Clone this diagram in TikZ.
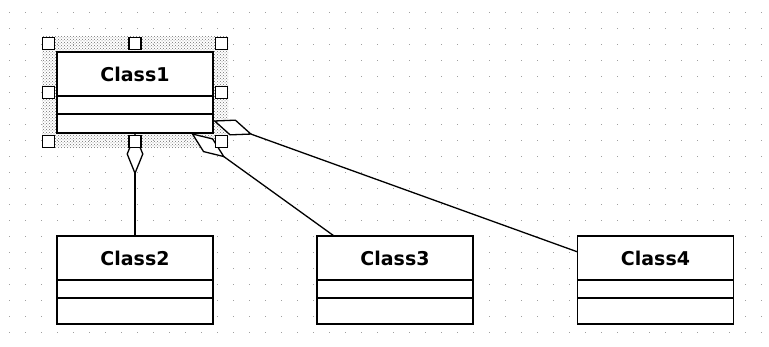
\documentclass[tikz,border=0pt]{standalone}
\usepackage{fontspec}
\setmainfont{DejaVu Sans}
\usepackage{tikz}
\usetikzlibrary{positioning,arrows.meta,fit,backgrounds,patterns}
\definecolor{griddot}{HTML}{A0A0A0}
\definecolor{selgray}{HTML}{707070}

\begin{document}
\begin{tikzpicture}[
  x=1pt,y=-1pt,
  every node/.style={outer sep=0pt},
  head/.style={draw,line width=1.8pt,fill=white,minimum width=156pt,minimum height=44pt,inner sep=0pt,font=\fontsize{19}{19}\selectfont\bfseries},
  comp/.style={draw,line width=1.8pt,fill=white,minimum width=156pt,inner sep=0pt},
  whole/.style={inner sep=0pt},
  agg/.style={-{Diamond[fill=white,length=42pt,width=17pt]},line width=1.3pt},
  handle/.style={draw,line width=1.5pt,fill=white,minimum size=12pt,inner sep=0pt}]
  \useasboundingbox (0,0) rectangle (769,347);
  % Class1 (selected)
  \node[head] (c1h) at (135,74) {Class1};
  \node[comp,minimum height=18pt,below=0pt of c1h] (c1a) {};
  \node[comp,minimum height=19pt,below=0pt of c1a] (c1m) {};
  \node[whole,fit=(c1h)(c1m)] (c1) {};
  % Class2
  \node[head] (c2h) at (135,258) {Class2};
  \node[comp,minimum height=18pt,below=0pt of c2h] (c2a) {};
  \node[comp,minimum height=26pt,below=0pt of c2a] (c2m) {};
  \node[whole,fit=(c2h)(c2m)] (c2) {};
  % Class3
  \node[head,right=104pt of c2h] (c3h) {Class3};
  \node[comp,minimum height=18pt,below=0pt of c3h] (c3a) {};
  \node[comp,minimum height=26pt,below=0pt of c3a] (c3m) {};
  \node[whole,fit=(c3h)(c3m)] (c3) {};
  % Class4
  \node[head,right=104.5pt of c3h] (c4h) {Class4};
  \node[comp,minimum height=18pt,below=0pt of c4h] (c4a) {};
  \node[comp,minimum height=26pt,below=0pt of c4a] (c4m) {};
  \node[whole,fit=(c4h)(c4m)] (c4) {};
  % grid and selection band
  \begin{scope}[on background layer]
    \foreach \x in {9,25,...,761}
      \foreach \y in {12,28,...,332}
        \fill[griddot] (\x,\y) rectangle ++(1.2,1.2);
    \node[fit=(c1),inner sep=15pt,pattern=crosshatch dots,pattern color=selgray] (band) {};
  \end{scope}
  % aggregations
  \draw[agg] (c2) -- (c1);
  \draw[agg] (c3) -- (c1);
  \draw[agg] (c4) -- (c1);
  % handles
  \node[whole,fit=(c1),inner sep=8.5pt] (sel) {};
  \foreach \a [count=\i] in {north west,north,north east,west,east,south west,south,south east}
    \node[handle] (h\i) at (sel.\a) {};
\end{tikzpicture}
\end{document}
